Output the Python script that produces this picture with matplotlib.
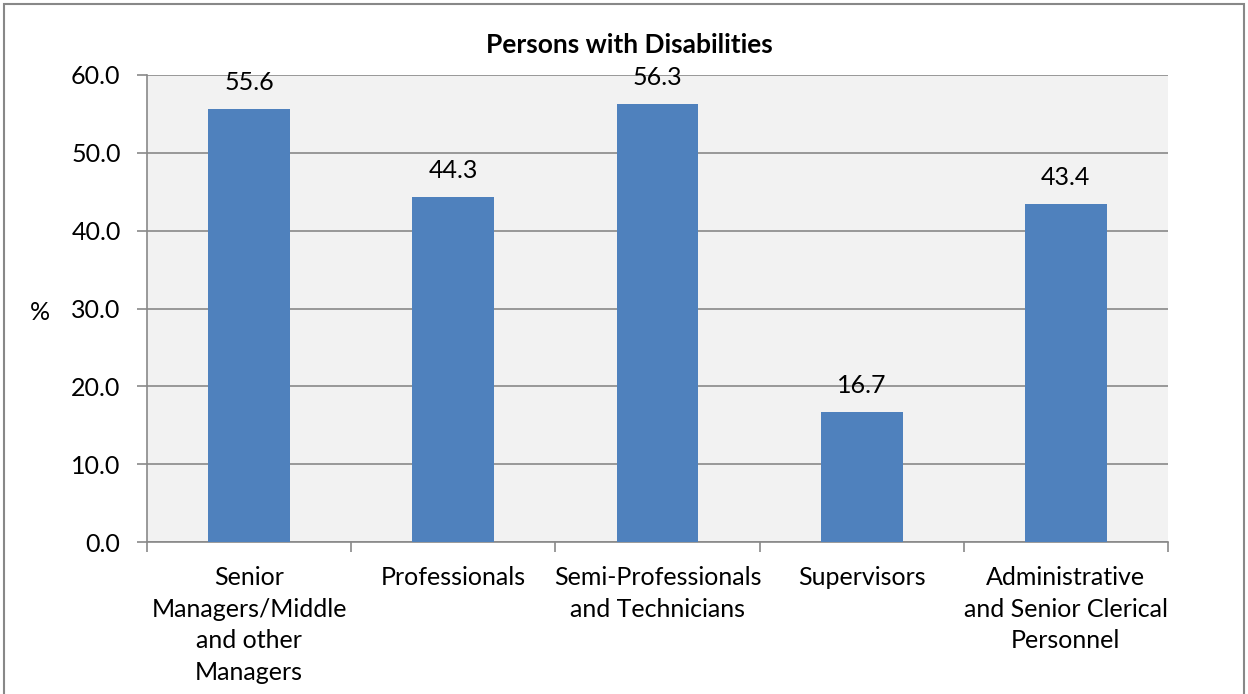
import matplotlib
matplotlib.use("Agg")
import matplotlib.pyplot as plt
from matplotlib.patches import Rectangle

plt.rcParams['font.family'] = ['Lato', 'DejaVu Sans']

categories = ["Senior\nManagers/Middle\nand other\nManagers", "Professionals",
              "Semi-Professionals\nand Technicians", "Supervisors",
              "Administrative\nand Senior Clerical\nPersonnel"]
values = [55.6, 44.3, 56.3, 16.7, 43.4]
yticks = [0, 10, 20, 30, 40, 50, 60]

FS = 18
fig = plt.figure(figsize=(12.48, 6.94), dpi=100)
fig.patches.append(Rectangle((4/1248, -0.01), 1240/1248, (690/694)+0.01, transform=fig.transFigure,
                             fill=False, edgecolor='#888888', linewidth=1.5))
ax = fig.add_axes([147/1248, 152/694, 1021/1248, 467/694])
ax.set_facecolor('#F2F2F2')

x = list(range(len(categories)))
ax.bar(x, values, width=0.4, color='#4F81BD', zorder=3)
for xi, v in zip(x, values):
    ax.annotate(f"{v:.1f}", (xi, v), xytext=(0, 19), textcoords='offset points',
                ha='center', va='center', fontsize=FS, color='black')

ax.set_xlim(-0.5, len(categories) - 0.5)
ax.set_ylim(0, 60)
ax.set_yticks(yticks)
ax.set_yticklabels([f"{t:.1f}" for t in yticks], fontsize=FS)
ax.yaxis.grid(True, color='#898989', linewidth=1.2, zorder=0)
ax.set_axisbelow(True)

ax.set_xticks(x)
ax.set_xticklabels(categories, fontsize=FS, linespacing=1.47, va='top')
ax.tick_params(axis='x', length=0, pad=17)
ax.set_xticks([i - 0.5 for i in range(len(categories) + 1)], minor=True)
ax.tick_params(axis='x', which='minor', length=7, color='#898989', width=1.2)
ax.tick_params(axis='y', length=7, color='#898989', width=1.2, pad=12)

for s in ['top', 'right']:
    ax.spines[s].set_visible(False)
for s in ['left', 'bottom']:
    ax.spines[s].set_color('#898989')
    ax.spines[s].set_linewidth(1.2)

fig.text(40/1248, 1 - 312/694, '%', fontsize=FS, ha='center', va='center')
fig.text(629/1248, 1 - 45/694, 'Persons with Disabilities', fontsize=19,
         fontweight='bold', ha='center', va='center')

fig.savefig('out.png', dpi=100)
